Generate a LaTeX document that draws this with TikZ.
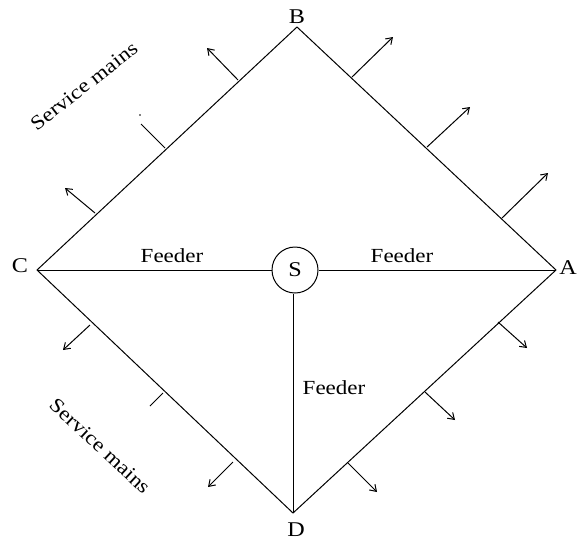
\documentclass[tikz,border=0pt]{standalone}
\usepackage{fontspec}
\setmainfont{Liberation Serif}
\newfontfamily\wide[FakeStretch=1.15]{Liberation Serif}
\usetikzlibrary{arrows.meta}
\begin{document}
\begin{tikzpicture}[x=1pt,y=-1pt,
  edge/.style={line width=1pt},
  arr/.style={line width=1pt,-{Straight Barb[length=6pt,width=8pt]}},
  tick/.style={line width=1pt},
  lab/.style={font=\wide\fontsize{21}{23}\selectfont,inner sep=0pt},
  txt/.style={font=\wide\fontsize{20}{22}\selectfont,inner sep=0pt},
  src/.style={circle,draw,line width=1pt,minimum size=46pt,inner sep=0pt,font=\wide\fontsize{21}{23}\selectfont}]
\useasboundingbox (0,0) rectangle (577,542);
\coordinate (A) at (556,270);
\coordinate (B) at (297,27);
\coordinate (C) at (37,270);
\coordinate (D) at (293,513);
\node[src] (S) at (295,270) {S};
\draw[edge] (C) -- (B) -- (A) -- (D) -- cycle;
\draw[edge] (C) -- (S.west);
\draw[edge] (S.east) -- (A);
\draw[edge] (S.south -| D) -- (D);
\node[lab] (lB) at (297,17) {B};
\node[lab] (lC) at (20,266) {C};
\node[lab] (lA) at (568,268) {A};
\node[lab] (lD) at (296,530) {D};
\node[txt] (f1) at (172,256) {Feeder};
\node[txt] (f2) at (402,256) {Feeder};
\node[txt] (f3) at (334,388) {Feeder};
\node[txt,rotate=38] (sm1) at (84,86) {Service mains};
\node[txt,rotate=-43] (sm2) at (100,446) {Service mains};
% arrows
\foreach \i/\bx/\by/\tx/\ty in {
  1/95/213/65/188, 2/238/80/207/48,
  3/352/77/393/37, 4/427/147/470/107, 5/502/218/548/173,
  6/90/325/63/350, 7/233/462/208/487,
  8/498/322/527/348, 9/425/392/455/420, 10/348/463/377/492}{
  \coordinate (b\i) at (\bx,\by);
  \coordinate (t\i) at (\tx,\ty);
  \draw[arr] (b\i) -- (t\i);
}
\coordinate (b11) at (165,148);
\coordinate (t11) at (141,124);
\draw[tick] (b11) -- (t11);
\fill (140,115) circle (0.8pt);
\coordinate (b12) at (163,393);
\coordinate (t12) at (150,406);
\draw[tick] (b12) -- (t12);
\end{tikzpicture}
\end{document}
